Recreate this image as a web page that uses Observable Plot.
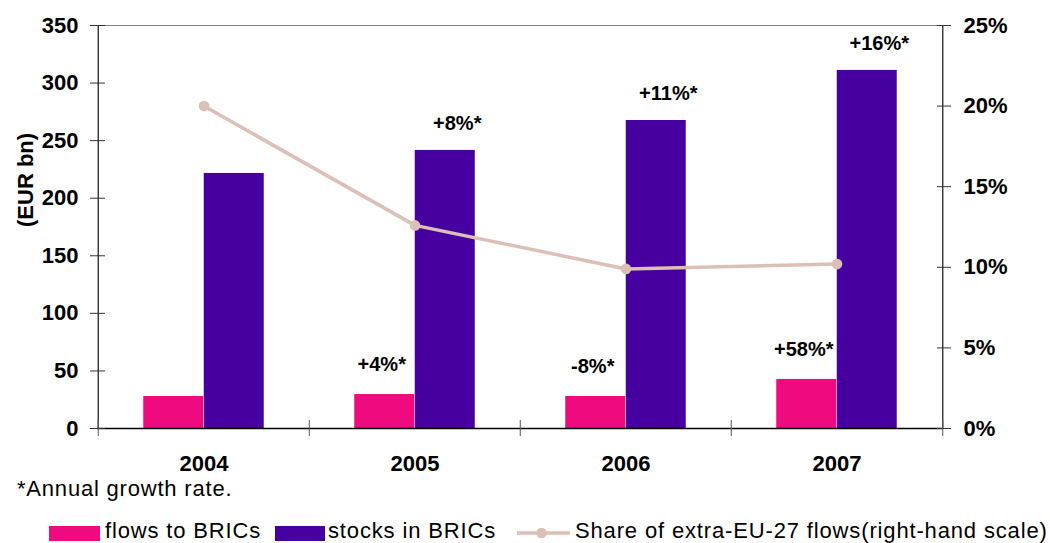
<!DOCTYPE html>
<html>
<head>
<meta charset="utf-8">
<script src="https://cdn.jsdelivr.net/npm/d3@7"></script>
<script src="https://cdn.jsdelivr.net/npm/@observablehq/plot@0.6"></script>
<style>
  body { margin: 0; background: #fff; }
  #wrap { position: relative; width: 1050px; height: 543px; overflow: hidden;
          font-family: "Liberation Sans", Arial, sans-serif; color: #000; }
  #chart { position: absolute; left: 0; top: 0; }
  .note { position: absolute; left: 17px; top: 478px; font-size: 22px; line-height: 22px;
          letter-spacing: 0.8px; white-space: nowrap; }
  .leg { position: absolute; top: 520px; font-size: 22px; line-height: 22px;
         letter-spacing: 0.85px; white-space: nowrap; }
  .sw { position: absolute; top: 526px; height: 15px; }
</style>
</head>
<body>
<div id="wrap">
  <div id="chart"></div>
  <div class="note">*Annual growth rate.</div>
  <div id="legend"></div>
</div>
<script>
// EU investment in Brazil, Russia, India and China (EUR bn)
const years = ["2004", "2005", "2006", "2007"];
const flowsToBRICs = [27.8, 29.5, 27.8, 42.6];
const stocksInBRICs = [221.5, 241.5, 267.5, 311];
// BRIC share of extra-EU-27 flows, in percent (right-hand scale)
const shareExtraEU27 = [20.0, 12.6, 9.9, 10.2];
const flowGrowth = ["", "+4%*", "-8%*", "+58%*"];
const stockGrowth = ["", "+8%*", "+11%*", "+16%*"];
const leftTicks = [0, 50, 100, 150, 200, 250, 300, 350];
const rightTicks = [0, 5, 10, 15, 20, 25];

const PINK = "#F00A80";
const PURPLE = "#4700A0";
const LINE = "#DCC0B7";
const FONT = "Liberation Sans, Arial, sans-serif";

const W = 1050, H = 475;
const mL = 97, mR = 107, mT = 25, mB = 47;
const bw = (W - mL - mR) / years.length;   // width of one year's band
const barW = 60.5;                          // width of a single bar
const k = leftTicks[leftTicks.length - 1] / rightTicks[rightTicks.length - 1]; // % -> EUR bn axis

const rows = years.map((year, i) => ({
  year,
  flows: flowsToBRICs[i],
  stocks: stocksInBRICs[i],
  share: shareExtraEU27[i],
  flowLabel: flowGrowth[i],
  stockLabel: stockGrowth[i]
}));

const chart = Plot.plot({
  width: W,
  height: H,
  marginLeft: mL,
  marginRight: mR,
  marginTop: mT,
  marginBottom: mB,
  style: { fontFamily: FONT, fontSize: "22px", color: "#000", background: "#fff", overflow: "visible" },
  x: { type: "band", domain: years, padding: 0, label: null },
  y: { domain: [0, leftTicks[leftTicks.length - 1]], label: null },
  marks: [
    // bars: flows left of the band centre, stocks right of it
    Plot.barY(rows, { x: "year", y: "flows", fill: PINK, insetLeft: bw / 2 - barW, insetRight: bw / 2 }),
    Plot.barY(rows, { x: "year", y: "stocks", fill: PURPLE, insetLeft: bw / 2, insetRight: bw / 2 - barW }),

    // frame lines
    Plot.ruleY([leftTicks[leftTicks.length - 1]], { stroke: "#808080", strokeWidth: 1.2 }),
    Plot.ruleY([0], { stroke: "#000", strokeWidth: 1.4 }),
    Plot.ruleX([years[0]], { dx: -bw / 2, stroke: "#333", strokeWidth: 1.4 }),
    Plot.ruleX([years[years.length - 1]], { dx: bw / 2, stroke: "#333", strokeWidth: 1.4 }),

    // share line on the right-hand scale
    Plot.line(rows, { x: "year", y: d => d.share * k, stroke: LINE, strokeWidth: 3.5 }),
    Plot.dot(rows, { x: "year", y: d => d.share * k, r: 5.3, fill: LINE, stroke: null }),

    // growth-rate labels
    Plot.text(rows.filter(d => d.flowLabel), {
      x: "year", y: "flows", text: "flowLabel", dx: -barW / 2 - 3, dy: -30,
      fontSize: 20, fontWeight: "bold", fill: "#000"
    }),
    Plot.text(rows.filter(d => d.stockLabel), {
      x: "year", y: "stocks", text: "stockLabel", dx: barW / 2 + 12, dy: -27,
      fontSize: 20, fontWeight: "bold", fill: "#000"
    }),

    // left axis: tick marks crossing the axis line, then labels
    Plot.axisY(leftTicks, { anchor: "left", tickSize: 15, dx: 8, tickFormat: () => "", label: null, stroke: "#333" }),
    Plot.axisY(leftTicks, { anchor: "left", tickSize: 0, tickPadding: 19, label: null,
      fontSize: 22, fontWeight: "bold", fill: "#000" }),

    // right axis (percent)
    Plot.axisY(rightTicks.map(v => v * k), { anchor: "right", tickSize: 14, dx: -7, tickFormat: () => "", label: null, stroke: "#333" }),
    Plot.axisY(rightTicks.map(v => v * k), { anchor: "right", tickSize: 0, tickPadding: 20, label: null,
      tickFormat: d => `${Math.round(d / k)}%`, fontSize: 22, fontWeight: "bold", fill: "#000" }),

    // x axis: ticks on the year boundaries, labels centred in each band
    Plot.axisX(years, { anchor: "bottom", tickSize: 16, dy: -8, dx: -bw / 2, tickFormat: () => "", label: null, stroke: "#555" }),
    Plot.axisX([years[years.length - 1]], { anchor: "bottom", tickSize: 16, dy: -8, dx: bw / 2, tickFormat: () => "", label: null, stroke: "#555" }),
    Plot.axisX(years, { anchor: "bottom", tickSize: 0, tickPadding: 27, label: null,
      fontSize: 22, fontWeight: "bold", fill: "#000" }),

    // left-axis title
    Plot.text(["(EUR bn)"], { frameAnchor: "left", text: d => d, rotate: -90, dx: -72,
      fontSize: 22, fontWeight: "bold", fill: "#000" })
  ]
});
document.getElementById("chart").append(chart);

// legend below the chart
const legend = document.getElementById("legend");
const items = [
  { kind: "box", color: PINK, swX: 49, swW: 51, textX: 105, label: "flows to BRICs" },
  { kind: "box", color: PURPLE, swX: 275, swW: 50, textX: 328, label: "stocks in BRICs" },
  { kind: "line", color: LINE, swX: 517, swW: 53, textX: 575, label: "Share of extra-EU-27 flows(right-hand scale)" }
];
for (const it of items) {
  if (it.kind === "box") {
    const sw = document.createElement("div");
    sw.className = "sw";
    sw.style.left = it.swX + "px";
    sw.style.width = it.swW + "px";
    sw.style.background = it.color;
    legend.append(sw);
  } else {
    const ns = "http://www.w3.org/2000/svg";
    const svg = document.createElementNS(ns, "svg");
    svg.setAttribute("width", it.swW);
    svg.setAttribute("height", 14);
    svg.style.position = "absolute";
    svg.style.left = it.swX + "px";
    svg.style.top = "526px";
    const ln = document.createElementNS(ns, "line");
    ln.setAttribute("x1", 0); ln.setAttribute("x2", it.swW);
    ln.setAttribute("y1", 7); ln.setAttribute("y2", 7);
    ln.setAttribute("stroke", it.color); ln.setAttribute("stroke-width", 3.5);
    const c = document.createElementNS(ns, "circle");
    c.setAttribute("cx", it.swW / 2 - 2); c.setAttribute("cy", 7); c.setAttribute("r", 5.3);
    c.setAttribute("fill", it.color);
    svg.append(ln, c);
    legend.append(svg);
  }
  const t = document.createElement("div");
  t.className = "leg";
  t.style.left = it.textX + "px";
  t.textContent = it.label;
  legend.append(t);
}
</script>
</body>
</html>
